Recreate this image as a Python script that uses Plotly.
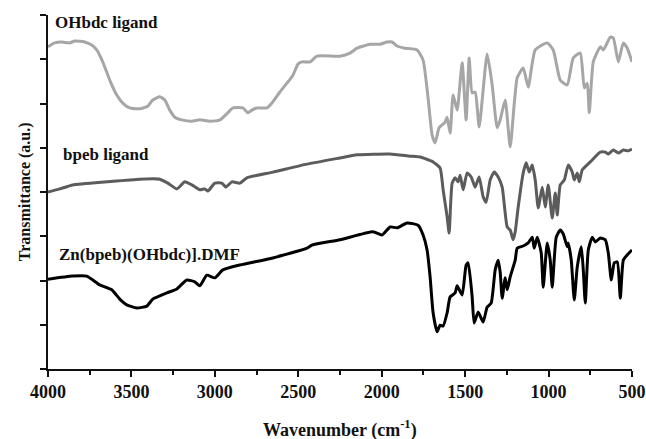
import plotly.graph_objects as go

# FTIR spectra (wavenumber in cm^-1, transmittance in arbitrary offset units)
ohbdc_wn = [4000, 3960, 3918, 3870, 3840, 3780, 3738, 3708, 3672, 3630, 3588, 3552, 3510, 3450,
            3402, 3372, 3330, 3300, 3270, 3240, 3198, 3138, 3090, 3030, 2970, 2922, 2892, 2832,
            2802, 2778, 2748, 2688, 2658, 2610, 2568, 2532, 2502, 2478, 2430, 2388, 2250, 2190,
            2148, 2070, 2010, 1968, 1938, 1908, 1860, 1788, 1752, 1722, 1698, 1680, 1656, 1620,
            1608, 1590, 1572, 1548, 1518, 1494, 1476, 1458, 1440, 1416, 1368, 1338, 1308, 1290,
            1260, 1230, 1188, 1152, 1122, 1080, 1008, 972, 930, 888, 852, 810, 786, 768, 756,
            732, 690, 672, 630, 612, 582, 552, 528, 500]
ohbdc_t = [7.28, 7.37, 7.39, 7.37, 7.41, 7.39, 7.32, 7.21, 6.94, 6.53, 6.19, 6.01, 5.90, 5.88,
           5.94, 6.08, 6.15, 6.08, 5.85, 5.69, 5.63, 5.60, 5.63, 5.60, 5.63, 5.79, 5.90, 5.90,
           5.79, 5.85, 5.90, 5.90, 6.01, 6.26, 6.46, 6.64, 6.89, 6.94, 6.94, 7.07, 7.07, 7.14,
           7.25, 7.34, 7.34, 7.39, 7.39, 7.30, 7.25, 7.21, 6.98, 6.12, 5.29, 5.11, 5.45, 5.58,
           5.69, 5.33, 6.19, 5.85, 6.92, 5.63, 7.03, 6.24, 6.26, 5.47, 7.12, 6.42, 5.45, 5.63,
           6.08, 5.02, 6.58, 6.80, 6.37, 7.21, 7.37, 7.21, 6.53, 6.42, 7.03, 7.14, 6.35, 6.46, 5.79,
           6.94, 7.28, 7.21, 7.50, 7.48, 6.94, 7.37, 7.25, 6.94]

bpeb_wn = [4000, 3930, 3852, 3648, 3450, 3330, 3282, 3228, 3180, 3138, 3090, 3060, 3042, 3000,
           2958, 2934, 2898, 2850, 2808, 2652, 2448, 2250, 2148, 1950, 1830, 1770, 1692, 1650,
           1632, 1608, 1596, 1578, 1560, 1542, 1530, 1512, 1488, 1464, 1440, 1416, 1392, 1374,
           1350, 1326, 1302, 1278, 1248, 1230, 1212, 1200, 1182, 1152, 1134, 1116, 1098, 1080,
           1062, 1038, 1020, 1002, 978, 960, 948, 930, 906, 882, 858, 846, 828, 816, 798, 750,
           690, 660, 642, 612, 582, 552, 522, 500]
bpeb_t = [4.00, 4.07, 4.16, 4.23, 4.29, 4.29, 4.20, 4.07, 4.23, 4.16, 4.05, 4.07, 4.02, 4.20,
          4.20, 4.11, 4.23, 4.20, 4.32, 4.45, 4.63, 4.77, 4.84, 4.86, 4.81, 4.79, 4.68, 4.54,
          4.05, 3.44, 3.07, 4.20, 4.32, 4.23, 4.38, 4.05, 4.43, 4.34, 4.11, 4.34, 3.89, 3.77,
          4.27, 4.45, 4.34, 4.11, 3.21, 3.14, 2.92, 3.10, 3.66, 4.43, 4.66, 4.45, 4.61, 4.27,
          3.64, 4.11, 3.66, 4.16, 3.41, 3.98, 3.48, 4.16, 4.27, 4.61, 4.45, 4.27, 4.43, 4.23,
          4.50, 4.68, 4.90, 4.90, 4.86, 4.95, 4.88, 4.95, 4.93, 4.97]

zn_wn = [4000, 3852, 3768, 3690, 3618, 3570, 3528, 3468, 3408, 3372, 3288, 3228, 3168, 3120,
         3090, 3048, 3000, 2952, 2850, 2652, 2448, 2418, 2250, 2052, 1998, 1950, 1908, 1848,
         1782, 1752, 1728, 1710, 1692, 1668, 1650, 1632, 1608, 1590, 1560, 1548, 1518, 1494,
         1482, 1458, 1446, 1422, 1392, 1368, 1344, 1320, 1302, 1290, 1278, 1260, 1248, 1230,
         1200, 1188, 1152, 1122, 1098, 1086, 1068, 1044, 1032, 1008, 990, 978, 954, 930, 912,
         888, 882, 864, 846, 828, 804, 792, 780, 762, 738, 720, 690, 660, 642, 624, 606, 588,
         570, 552, 528, 500]
zn_t = [2.03, 2.10, 2.10, 1.90, 1.79, 1.58, 1.45, 1.38, 1.42, 1.58, 1.72, 1.81, 2.01, 1.97,
        1.88, 2.12, 2.06, 2.24, 2.35, 2.51, 2.73, 2.80, 2.92, 3.10, 3.03, 3.21, 3.19, 3.30,
        3.25, 3.03, 2.69, 2.08, 1.27, 0.84, 0.99, 0.97, 1.27, 1.63, 1.72, 1.88, 1.67, 2.35,
        2.40, 1.63, 1.04, 1.29, 1.06, 1.40, 1.49, 2.24, 2.46, 2.19, 1.60, 2.06, 1.79, 2.08,
        2.46, 2.73, 2.78, 2.85, 2.98, 2.73, 2.98, 2.62, 1.85, 2.85, 2.46, 1.85, 2.98, 3.14, 3.05,
        2.76, 2.85, 2.46, 1.56, 2.31, 2.76, 2.24, 1.49, 2.69, 2.98, 2.87, 2.96, 2.92, 2.62, 2.01,
        2.40, 2.42, 1.60, 2.46, 2.58, 2.69]

sample_names = ["OHbdc ligand", "bpeb ligand", "Zn(bpeb)(OHbdc)].DMF"]
label_pos = [(3972, 7.84), (3924, 4.84), (3944, 2.58)]
line_colors = ["#a6a6a6", "#5c5c5c", "#000000"]

serif = "Liberation Serif"
ink = "#111111"

fig = go.Figure()
for wn, t, color, name in zip([ohbdc_wn, bpeb_wn, zn_wn], [ohbdc_t, bpeb_t, zn_t],
                              line_colors, sample_names):
    fig.add_trace(go.Scatter(x=wn, y=t, mode="lines", name=name,
                             line=dict(color=color, width=3, shape="spline", smoothing=0.5)))

for name, (lx, ly) in zip(sample_names, label_pos):
    fig.add_annotation(x=lx, y=ly, text=name, showarrow=False, xanchor="left", yanchor="middle",
                       font=dict(family=serif, size=17, color=ink, weight="bold"))

# axis titles placed in paper coordinates
fig.add_annotation(xref="paper", yref="paper", x=0.5, y=-0.17, xanchor="center", yanchor="middle",
                   text="Wavenumber (cm<sup>-1</sup>)", showarrow=False,
                   font=dict(family=serif, size=18, color=ink, weight="bold"))
fig.add_annotation(xref="paper", yref="paper", x=-0.039, y=0.5, xanchor="center", yanchor="middle",
                   text="Transmittance (a.u.)", textangle=-90, showarrow=False,
                   font=dict(family=serif, size=16, color=ink, weight="bold"))

fig.update_layout(
    width=646, height=439,
    margin=dict(l=48, r=14, t=15, b=70),
    paper_bgcolor="white", plot_bgcolor="white",
    showlegend=False,
    font=dict(family=serif, color=ink),
)
fig.update_xaxes(
    range=[4000, 500], tick0=500, dtick=500, ticks="outside", ticklen=6, tickwidth=1.5,
    tickcolor=ink, showline=True, linecolor=ink, linewidth=1.5,
    showgrid=False, zeroline=False, automargin=False,
    tickfont=dict(family=serif, size=18, weight="bold"),
    minor=dict(dtick=250, tick0=500, ticks="outside", ticklen=4, tickwidth=1.5, tickcolor=ink),
)
fig.update_yaxes(
    range=[0, 8], dtick=1, ticks="outside", ticklen=6, tickwidth=1.5, tickcolor=ink,
    showline=True, linecolor=ink, linewidth=1.5, showgrid=False, zeroline=False,
    showticklabels=False, automargin=False,
)

fig.write_html("out.html")
